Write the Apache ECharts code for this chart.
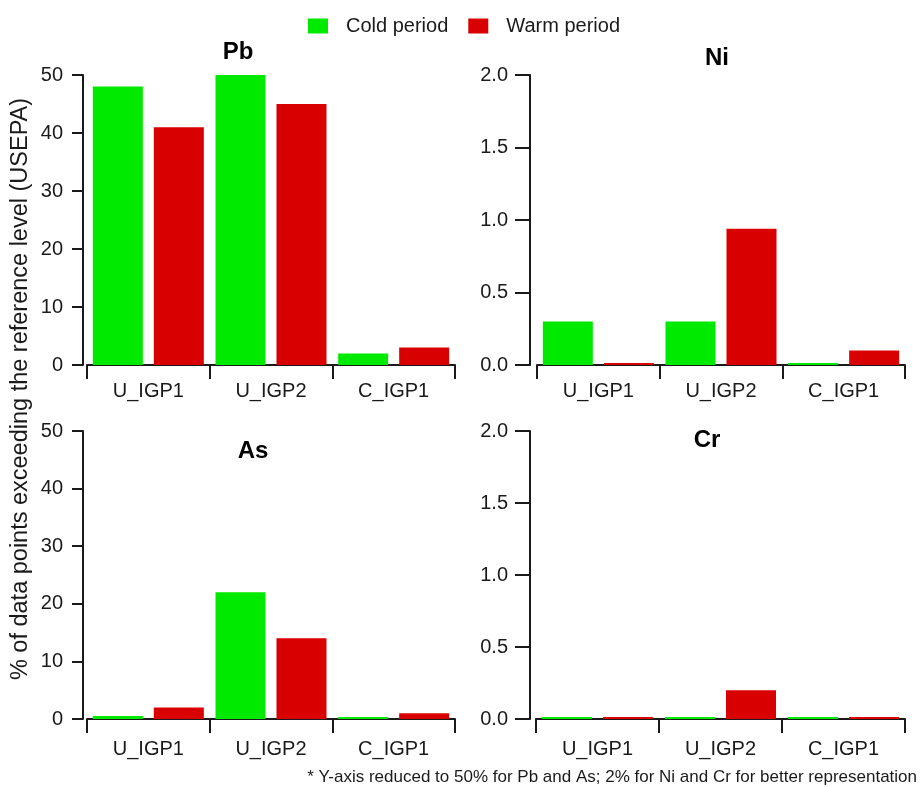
<!DOCTYPE html>
<html>
<head>
<meta charset="utf-8">
<script src="https://cdn.jsdelivr.net/npm/echarts@6/dist/echarts.min.js"></script>
<style>
html,body{margin:0;padding:0;background:#fff;}
#chart{width:920px;height:787px;}
</style>
</head>
<body>
<div id="chart"></div>
<script>
var categories = ['U_IGP1', 'U_IGP2', 'C_IGP1'];
var seriesNames = ['Cold period', 'Warm period'];
var panelTitles = ['Pb', 'Ni', 'As', 'Cr'];
var pbCold = [48, 50, 2];
var pbWarm = [41, 45, 3];
var niCold = [0.3, 0.3, 0];
var niWarm = [0, 0.94, 0.1];
var asCold = [0.5, 22, 0];
var asWarm = [2, 14, 1];
var crCold = [0, 0, 0];
var crWarm = [0, 0.2, 0];
var yMax = [50, 2, 50, 2];
var yInterval = [10, 0.5, 10, 0.5];
var yTitle = '% of data points exceeding the reference level (USEPA)';
var footnote = '* Y-axis reduced to 50% for Pb and As; 2% for Ni and Cr for better representation';

var FONT = '"Liberation Sans", Arial, Helvetica, sans-serif';
var GREEN = '#00EA00';
var RED = '#D80000';
var INK = '#1a1a1a';

var grids = [
  {left: 87, top: 75, width: 368, height: 290},
  {left: 537, top: 75, width: 368, height: 290},
  {left: 87, top: 431, width: 368, height: 288},
  {left: 536, top: 431, width: 369, height: 288}
];
var xOffsets = [4, 4, 8, 8];
var yOffsets = [4, 7, 4, 6];
var yTickLen = [11, 15, 11, 15];
var yLabelMargin = [20, 22, 20, 22];
var titlePos = [[238, 52], [717, 58], [253, 451], [707, 440]];
var dataPairs = [[pbCold, pbWarm], [niCold, niWarm], [asCold, asWarm], [crCold, crWarm]];

var xAxes = [], yAxes = [], series = [], graphics = [];
for (var i = 0; i < 4; i++) {
  xAxes.push({
    type: 'category', gridIndex: i, data: categories, boundaryGap: true,
    offset: xOffsets[i],
    axisLine: {show: true, lineStyle: {color: INK, width: 2}},
    axisTick: {show: true, length: 14, alignWithLabel: false, lineStyle: {color: INK, width: 2}},
    axisLabel: {fontFamily: FONT, fontSize: 20, color: INK, margin: 12},
    splitLine: {show: false}
  });
  var isSmall = (yMax[i] === 2);
  yAxes.push({
    type: 'value', gridIndex: i, min: 0, max: yMax[i], interval: yInterval[i],
    offset: yOffsets[i],
    axisLine: {show: true, lineStyle: {color: INK, width: 2}},
    axisTick: {show: true, length: yTickLen[i], inside: false, lineStyle: {color: INK, width: 2}},
    axisLabel: {fontFamily: FONT, fontSize: 20, color: INK, margin: yLabelMargin[i],
      formatter: isSmall ? function (v) { return v.toFixed(1); } : function (v) { return String(v); }},
    splitLine: {show: false}
  });
  series.push({
    name: seriesNames[0], type: 'bar', xAxisIndex: i, yAxisIndex: i,
    data: dataPairs[i][0], barWidth: 50, barGap: '22%', barMinHeight: 2,
    itemStyle: {color: GREEN}, silent: true
  });
  series.push({
    name: seriesNames[1], type: 'bar', xAxisIndex: i, yAxisIndex: i,
    data: dataPairs[i][1], barWidth: 50, barGap: '22%', barMinHeight: 2,
    itemStyle: {color: RED}, silent: true
  });
  graphics.push({
    type: 'text', x: titlePos[i][0], y: titlePos[i][1],
    style: {text: panelTitles[i], font: 'bold 24px ' + FONT, fill: '#000',
      textAlign: 'center', textVerticalAlign: 'middle', align: 'center', verticalAlign: 'middle'}
  });
}
graphics.push({
  type: 'text', x: 21, y: 389, rotation: Math.PI / 2,
  style: {text: yTitle, font: '23.5px ' + FONT, fill: INK,
    textAlign: 'center', textVerticalAlign: 'middle', align: 'center', verticalAlign: 'middle'}
});
graphics.push({
  type: 'text', x: 917, y: 777,
  style: {text: footnote, font: '17px ' + FONT, fill: INK,
    textAlign: 'right', textVerticalAlign: 'middle', align: 'right', verticalAlign: 'middle'}
});

var chart = echarts.init(document.getElementById('chart'), null, {renderer: 'canvas'});
chart.setOption({
  animation: false,
  backgroundColor: '#ffffff',
  legend: {
    data: seriesNames, left: 303, top: 11,
    itemWidth: 20, itemHeight: 15, itemGap: 20,
    icon: 'rect',
    textStyle: {fontFamily: FONT, fontSize: 20, color: INK, padding: [0, 0, 0, 13]},
    selectedMode: false
  },
  grid: grids,
  xAxis: xAxes,
  yAxis: yAxes,
  series: series,
  graphic: graphics
});
</script>
</body>
</html>
